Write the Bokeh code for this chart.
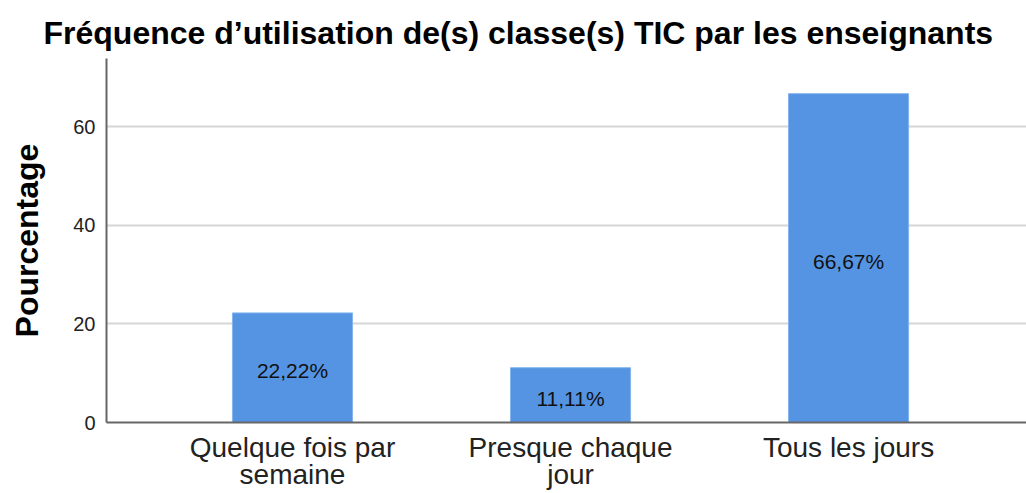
from bokeh.plotting import figure
from bokeh.models import Range1d, FixedTicker, ColumnDataSource, Title
from bokeh.core.properties import value
from bokeh.embed import file_html
from bokeh.resources import INLINE

categories = ["Quelque fois par\nsemaine", "Presque chaque\njour", "Tous les jours"]
percentages = [22.22, 11.11, 66.67]
y_ticks = [0, 20, 40, 60]

labels = [f"{v:.2f}%".replace(".", ",") for v in percentages]
xs = list(range(len(categories)))
src = ColumnDataSource(dict(x=xs, top=percentages, mid=[v / 2 for v in percentages], lab=labels))

FONT = "Liberation Sans"

p = figure(width=1026, height=493, output_backend="svg", toolbar_location=None,
           x_range=Range1d(-0.669, 2.640), y_range=Range1d(0, 73.8),
           min_border_left=106, min_border_right=0, min_border_top=58, min_border_bottom=71)
p.title = None
t = Title(text="Fréquence d\u2019utilisation de(s) classe(s) TIC par les enseignants",
          align="left", offset=-63, text_font=FONT, text_font_size="32px",
          text_font_style="bold", text_color="#000000", standoff=16)
p.add_layout(t, "above")

p.vbar(x="x", top="top", width=0.432, source=src, fill_color="#5494E2",
       line_color="#86B4EE", line_width=1)
p.text(x="x", y="mid", text="lab", source=src, text_align="center", text_baseline="middle",
       y_offset=3, text_font=value(FONT), text_font_size="21px", text_color="#111111")

p.outline_line_color = None
p.xgrid.grid_line_color = None
p.ygrid.grid_line_color = "#d6d6d6"
p.ygrid.grid_line_width = 2
p.ygrid.ticker = FixedTicker(ticks=y_ticks)

p.yaxis.ticker = FixedTicker(ticks=y_ticks)
p.yaxis.axis_label = "Pourcentage"
p.yaxis.axis_label_text_font = FONT
p.yaxis.axis_label_text_font_size = "32px"
p.yaxis.axis_label_text_font_style = "bold"
p.yaxis.axis_label_text_color = "#000000"
p.yaxis.axis_label_standoff = 25
p.yaxis.major_label_text_font = FONT
p.yaxis.major_label_text_font_size = "20px"
p.yaxis.major_label_text_color = "#222222"
p.yaxis.major_label_standoff = 11

p.xaxis.ticker = FixedTicker(ticks=xs)
p.xaxis.major_label_overrides = {i: c for i, c in zip(xs, categories)}
p.xaxis.major_label_text_font = FONT
p.xaxis.major_label_text_font_size = "28px"
p.xaxis.major_label_text_line_height = 0.9
p.xaxis.major_label_text_color = "#222222"
p.xaxis.major_label_standoff = 9

for ax in (p.xaxis, p.yaxis):
    ax.axis_line_color = "#666666"
    ax.axis_line_width = 2
    ax.major_tick_out = 0
    ax.major_tick_in = 0
    ax.minor_tick_out = 0
    ax.minor_tick_in = 0

open("out.html", "w").write(file_html(p, INLINE))
